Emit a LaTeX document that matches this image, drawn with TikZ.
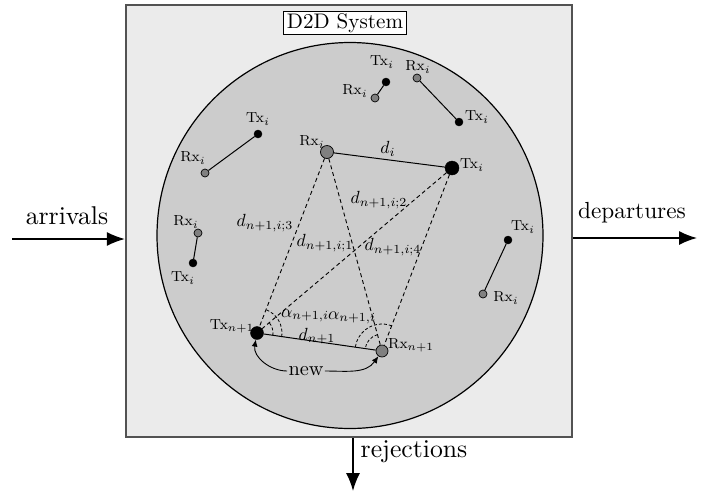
\RequirePackage{fix-cm}
\documentclass[tikz,border=0pt]{standalone}
\usetikzlibrary{arrows.meta,angles}
\begin{document}
\begin{tikzpicture}[x=1pt,y=1pt,
 txs/.style={circle,fill=black,draw=black,inner sep=0pt,minimum size=8pt},
 rxs/.style={circle,fill=black!50,draw=black,line width=0.7pt,inner sep=0pt,minimum size=8pt},
 lab/.style={font=\footnotesize, scale=1.82, inner sep=0pt},
 dlab/.style={font=\normalsize, scale=1.76, inner sep=0pt},
 big/.style={font=\fontsize{10}{12}\selectfont, inner sep=0pt},
 link/.style={line width=1pt},
 dlink/.style={line width=0.9pt, dash pattern=on 4pt off 3pt},
 flow/.style={line width=1.5pt, -{Latex[length=18pt,width=14pt]}},
 ang/.style={draw, line width=0.8pt, dash pattern=on 3pt off 2pt},
 newarrow/.style={line width=0.9pt, -{Latex[length=7pt,width=6pt]}},
]
\useasboundingbox (0,0) rectangle (717,-491);
% system box and zone
\node[draw=black!68, line width=2.2pt, fill=black!8, minimum width=446pt, minimum height=432pt, inner sep=0pt] (sys) at (349,-221) {};
\node[circle, draw, line width=1.2pt, fill=black!20, minimum size=386pt, inner sep=0pt] (zone) at (350,-235.5) {};
\node[draw, fill=white, line width=0.5pt, font=\fontsize{10}{12}\selectfont, scale=2.11, inner xsep=1.6pt, inner ysep=0.8pt] (title) at (345,-23) {D2D System};
% flows
\coordinate (ain) at (12,-239);
\draw[flow] (ain) -- (ain -| sys.west);
\node[big, scale=2.57] (arrl) at (67,-216) {arrivals};
\coordinate (dout) at (697,-238);
\draw[flow] (dout -| sys.east) -- (dout);
\node[big, scale=2.33] (depl) at (632,-213) {departures};
\coordinate (rout) at (353,-491);
\draw[flow] (rout |- sys.south) -- (rout);
\node[big, scale=2.57] (rejl) at (414,-452) {rejections};
% main nodes
\node[rxs, minimum size=13pt] (ri) at (327,-152) {};
\node[txs, minimum size=14pt] (ti) at (452,-168) {};
\node[txs, minimum size=13pt] (tn) at (257,-333) {};
\node[rxs, minimum size=12pt] (rn) at (382,-351) {};
\draw[link] (ri) -- (ti);
\draw[link] (tn) -- (rn);
\draw[dlink] (ri) -- (tn);
\draw[dlink] (ri) -- (rn);
\draw[dlink] (ti) -- (tn);
\draw[dlink] (ti) -- (rn);
\pic[ang, angle radius=25pt] {angle=rn--tn--ri};
\pic[ang, angle radius=16pt] {angle=rn--tn--ti};
\pic[ang, angle radius=27pt] {angle=ti--rn--tn};
\pic[ang, angle radius=17pt] {angle=ri--rn--tn};
\node[lab] (lri) at (312,-142) {Rx$_i$};
\node[lab] (lti) at (472,-165) {Tx$_i$};
\node[lab] (ltn) at (232,-326) {Tx$_{n+1}$};
\node[lab] (lrn) at (411,-345) {Rx$_{n+1}$};
\node[dlab] (ldi) at (388,-149) {$d_i$};
\node[dlab] (ld2) at (379,-200) {$d_{n+1,i;2}$};
\node[dlab] (ld3) at (265,-223) {$d_{n+1,i;3}$};
\node[dlab] (ld1) at (325,-243) {$d_{n+1,i;1}$};
\node[dlab] (ld4) at (393,-247) {$d_{n+1,i;4}$};
\node[dlab] (ldn) at (317,-336) {$d_{n+1}$};
\node[dlab] (la1) at (305,-316) {$\alpha_{n+1,i}$};
\node[dlab] (la2) at (352,-318) {$\alpha_{n+1,i}$};
\node[font=\fontsize{10}{12}\selectfont, scale=2.03, inner sep=0.5pt] (new) at (306,-371) {new};
\draw[newarrow] (new.west) to[out=180,in=260] (tn);
\draw[newarrow] (new.east) to[out=0,in=235] (rn);
% other pairs
\node[txs] (t1) at (386,-82) {}; \node[rxs] (r1) at (375,-98) {}; \draw[link] (t1) -- (r1);
\node[lab] (lt1) at (382,-62) {Tx$_i$}; \node[lab] (lr1) at (355,-91) {Rx$_i$};
\node[rxs] (r2) at (417,-78) {}; \node[txs] (t2) at (459,-122) {}; \draw[link] (r2) -- (t2);
\node[lab] (lr2) at (418,-67) {Rx$_i$}; \node[lab] (lt2) at (477,-117) {Tx$_i$};
\node[txs] (t3) at (258,-134) {}; \node[rxs] (r3) at (205,-173) {}; \draw[link] (t3) -- (r3);
\node[lab] (lt3) at (258,-119) {Tx$_i$}; \node[lab] (lr3) at (193,-158) {Rx$_i$};
\node[rxs] (r4) at (198,-233) {}; \node[txs] (t4) at (193,-263) {}; \draw[link] (r4) -- (t4);
\node[lab] (lr4) at (186,-222) {Rx$_i$}; \node[lab] (lt4) at (183,-278) {Tx$_i$};
\node[txs] (t5) at (508,-240) {}; \node[rxs] (r5) at (483,-294) {}; \draw[link] (t5) -- (r5);
\node[lab] (lt5) at (523,-227) {Tx$_i$}; \node[lab] (lr5) at (506,-298) {Rx$_i$};
\end{tikzpicture}
\end{document}
